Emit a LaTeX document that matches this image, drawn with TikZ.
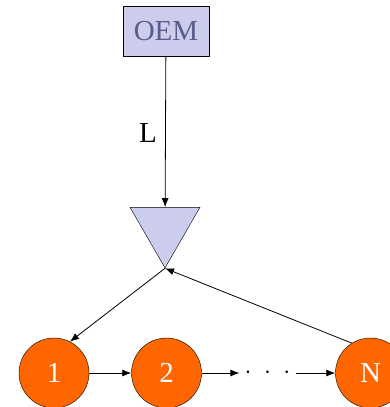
\documentclass[tikz,border=0pt]{standalone}
\usepackage{fontspec}
\setmainfont{Liberation Serif}
\usetikzlibrary{arrows.meta,shapes.geometric}
\definecolor{oemfill}{RGB}{204,204,236}
\definecolor{oemtext}{RGB}{92,92,140}
\definecolor{chainorange}{RGB}{255,102,0}
\begin{document}
\begin{tikzpicture}[x=1pt,y=-1pt, font=\fontsize{29}{32}\selectfont,
  >={Latex[length=9pt,width=7pt]},
  stage/.style={circle, draw, fill=chainorange, text=white, minimum size=70pt, inner sep=0pt},
  link/.style={->, line width=0.8pt}]
\useasboundingbox (0,0) rectangle (390,407);
\node[draw, fill=oemfill, text=oemtext, minimum width=86pt, minimum height=50pt, inner sep=0pt] (oem) at (166,31) {OEM};
\node[regular polygon, regular polygon sides=3, shape border rotate=180, draw, fill=oemfill, minimum size=80.8pt, inner sep=0pt] (mix) at (165,227.5) {};
\node (lbl) at (148,133) {L};
\node[stage] (s1) at (54,373) {1};
\node[stage] (s2) at (166.5,373) {2};
\node[stage] (sn) at (370.5,373) {N};
\node[inner xsep=5pt, inner ysep=0pt] (dots) at (267.5,373) {$\cdot\hspace{7pt}\cdot\hspace{7pt}\cdot$};
\draw[link] (oem) -- (mix);
\draw[link] (mix.corner 1) -- (s1.63);
\draw[link] (sn.122) -- (mix.corner 1);
\draw[link] (s1) -- (s2);
\draw[link] (s2) -- (dots);
\draw[link] (dots) -- (sn);
\end{tikzpicture}
\end{document}
